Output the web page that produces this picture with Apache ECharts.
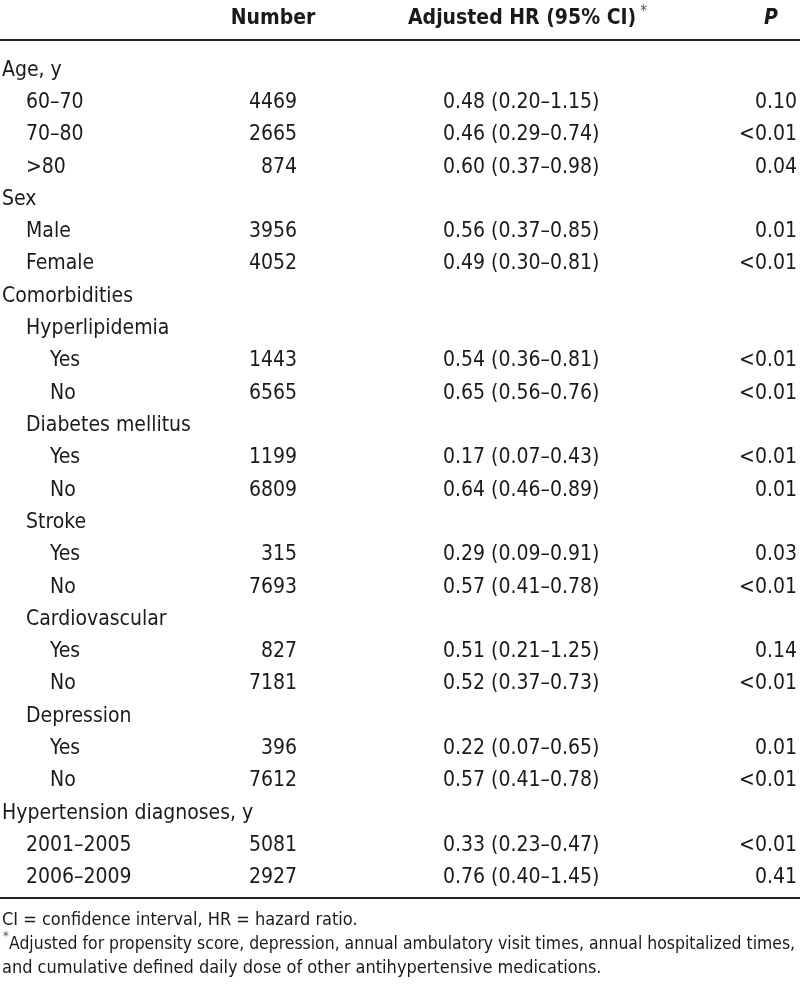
<!DOCTYPE html>
<html lang="en">
<head>
<meta charset="utf-8">
<title>Adjusted HR table</title>
<script src="https://cdn.jsdelivr.net/npm/echarts@6/dist/echarts.min.js"></script>
<style>
  html, body { margin: 0; padding: 0; background: #fff; }
  #main { width: 800px; height: 997px; }
</style>
</head>
<body>
<div id="main"></div>
<script>
// table rows
var rowLabels = ['Age, y', '60\u201370', '70\u201380', '>80', 'Sex', 'Male', 'Female', 'Comorbidities',
  'Hyperlipidemia', 'Yes', 'No', 'Diabetes mellitus', 'Yes', 'No', 'Stroke', 'Yes', 'No',
  'Cardiovascular', 'Yes', 'No', 'Depression', 'Yes', 'No', 'Hypertension diagnoses, y',
  '2001\u20132005', '2006\u20132009'];
var rowLevels = [0, 1, 1, 1, 0, 1, 1, 0, 1, 2, 2, 1, 2, 2, 1, 2, 2, 1, 2, 2, 1, 2, 2, 0, 1, 1];
var numbers = ['', '4469', '2665', '874', '', '3956', '4052', '', '', '1443', '6565', '', '1199', '6809',
  '', '315', '7693', '', '827', '7181', '', '396', '7612', '', '5081', '2927'];
var hrCI = ['', '0.48 (0.20\u20131.15)', '0.46 (0.29\u20130.74)', '0.60 (0.37\u20130.98)', '',
  '0.56 (0.37\u20130.85)', '0.49 (0.30\u20130.81)', '', '', '0.54 (0.36\u20130.81)', '0.65 (0.56\u20130.76)', '',
  '0.17 (0.07\u20130.43)', '0.64 (0.46\u20130.89)', '', '0.29 (0.09\u20130.91)', '0.57 (0.41\u20130.78)', '',
  '0.51 (0.21\u20131.25)', '0.52 (0.37\u20130.73)', '', '0.22 (0.07\u20130.65)', '0.57 (0.41\u20130.78)', '',
  '0.33 (0.23\u20130.47)', '0.76 (0.40\u20131.45)'];
var pValues = ['', '0.10', '<0.01', '0.04', '', '0.01', '<0.01', '', '', '<0.01', '<0.01', '',
  '<0.01', '0.01', '', '0.03', '<0.01', '', '0.14', '<0.01', '', '0.01', '<0.01', '', '<0.01', '0.41'];
var headers = ['Number', 'Adjusted HR (95% CI)', 'P'];
var footnotes = ['CI = confidence interval, HR = hazard ratio.',
  'Adjusted for propensity score, depression, annual ambulatory visit times, annual hospitalized times,',
  'and cumulative defined daily dose of other antihypertensive medications.'];

var FAM = '"Liberation Sans Narrow", "DejaVu Sans Condensed", "Arial Narrow", sans-serif';
var ink = '#1a1a1a';
var bodyFont = '21px ' + FAM;
var noteFont = '18px ' + FAM;

var chart = echarts.init(document.getElementById('main'), null, { renderer: 'canvas' });

chart.setOption({
  backgroundColor: '#fff',
  animation: false,
  grid: { left: 0, right: 0, top: 54, bottom: 103 },
  xAxis: { type: 'value', min: 0, max: 800, show: false },
  yAxis: { type: 'category', inverse: true, data: rowLabels, show: false },
  graphic: [
    { type: 'text', x: 273, y: 19, style: { text: headers[0], font: 'bold 21px ' + FAM, fill: ink, align: 'center', verticalAlign: 'middle' } },
    {
      type: 'text', left: 408, top: 5,
      style: {
        text: '{t|' + headers[1] + '}{s|*}',
        rich: {
          t: { font: 'bold 21px ' + FAM, fill: ink, padding: [3, 0, 0, 0] },
          s: { font: '15px ' + FAM, fill: '#555', verticalAlign: 'top', padding: [0, 0, 0, 4] }
        }
      }
    },
    { type: 'text', x: 771, y: 19, style: { text: headers[2], font: 'italic bold 21px ' + FAM, fill: ink, align: 'center', verticalAlign: 'middle' } },
    { type: 'line', shape: { x1: 0, y1: 40, x2: 800, y2: 40 }, style: { stroke: '#222', lineWidth: 1.8 } },
    { type: 'line', shape: { x1: 0, y1: 898, x2: 800, y2: 898 }, style: { stroke: '#222', lineWidth: 1.8 } },
    { type: 'text', x: 2, y: 920, style: { text: footnotes[0], font: noteFont, fill: ink, verticalAlign: 'middle' } },
    { type: 'text', x: 3, y: 937, style: { text: '*', font: '13px ' + FAM, fill: '#555', verticalAlign: 'middle' } },
    { type: 'text', x: 9, y: 944, scaleX: 0.968, style: { text: footnotes[1], font: noteFont, fill: ink, verticalAlign: 'middle' } },
    { type: 'text', x: 2, y: 968, style: { text: footnotes[2], font: noteFont, fill: ink, verticalAlign: 'middle' } }
  ],
  series: [{
    type: 'custom',
    silent: true,
    data: rowLabels.map(function (_, i) { return [0, i]; }),
    encode: { x: 0, y: 1 },
    renderItem: function (params, api) {
      var i = api.value(1);
      var y = api.coord([0, i])[1];
      var base = { font: bodyFont, fill: ink, verticalAlign: 'middle' };
      function txt(text, x, align) {
        return { type: 'text', style: Object.assign({ text: text, x: x, y: y, align: align }, base) };
      }
      return {
        type: 'group',
        children: [
          txt(rowLabels[i], 2 + rowLevels[i] * 24, 'left'),
          txt(numbers[i], 297, 'right'),
          txt(hrCI[i], 443, 'left'),
          txt(pValues[i], 797, 'right')
        ]
      };
    }
  }]
});
</script>
</body>
</html>
